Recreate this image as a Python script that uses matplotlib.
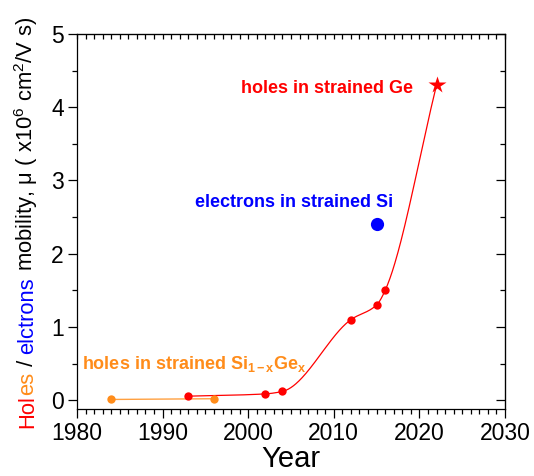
import numpy as np
import matplotlib
matplotlib.use("Agg")
import matplotlib.pyplot as plt

plt.rcParams['font.family'] = ['Liberation Sans', 'DejaVu Sans']
plt.rcParams['mathtext.fontset'] = 'custom'
plt.rcParams['mathtext.rm'] = 'Liberation Sans'
plt.rcParams['mathtext.bf'] = 'Liberation Sans:bold'
plt.rcParams['mathtext.it'] = 'Liberation Sans:italic'

# -----------------------------
# Data
# -----------------------------
sige_year = [1984, 1996]
sige_mu = [0.01, 0.02]

ge_year = [1993, 2002, 2004, 2012, 2015, 2016]
ge_mu = [0.055, 0.086, 0.12, 1.10, 1.30, 1.50]

ge_star_year = [2022]
ge_star_mu = [4.30]

si_year = [2015]
si_mu = [2.40]

RED = '#ff0000'
BLUE = '#0000ff'
ORANGE = '#ff8c1a'


def pchip(x, y, xs):
    # monotone cubic (Fritsch-Carlson), only for drawing the smooth connecting line
    x = np.asarray(x, float)
    y = np.asarray(y, float)
    h = np.diff(x)
    d = np.diff(y) / h
    m = np.zeros_like(y)
    for k in range(1, len(x) - 1):
        if d[k - 1] * d[k] > 0:
            w1 = 2 * h[k] + h[k - 1]
            w2 = h[k] + 2 * h[k - 1]
            m[k] = (w1 + w2) / (w1 / d[k - 1] + w2 / d[k])
    m[0] = d[0]
    m[-1] = d[-1]
    idx = np.clip(np.searchsorted(x, xs) - 1, 0, len(x) - 2)
    t = (xs - x[idx]) / h[idx]
    h00 = 2 * t**3 - 3 * t**2 + 1
    h10 = t**3 - 2 * t**2 + t
    h01 = -2 * t**3 + 3 * t**2
    h11 = t**3 - t**2
    return (h00 * y[idx] + h10 * h[idx] * m[idx]
            + h01 * y[idx + 1] + h11 * h[idx] * m[idx + 1])


fig = plt.figure(figsize=(5.34, 4.76), dpi=100)
ax = fig.add_axes([0.1442, 0.1408, 0.8015, 0.7878])

# red spline through the strained-Ge points
gx = ge_year + ge_star_year
gy = ge_mu + ge_star_mu
xs = np.linspace(gx[0], gx[-1], 400)
ax.plot(xs, pchip(gx, gy, xs), color=RED, lw=0.9, zorder=2)
ax.plot(ge_year, ge_mu, 'o', color=RED, ms=6, mec='none', zorder=3)
ax.plot(ge_star_year, ge_star_mu, '*', color=RED, ms=13, mec='none', zorder=3)

# orange SiGe
ax.plot(sige_year, sige_mu, '-', color='#ffa040', lw=1.0, zorder=2)
ax.plot(sige_year, sige_mu, 'o', color=ORANGE, ms=6, mec='none', zorder=3)

# blue strained Si
ax.plot(si_year, si_mu, 'o', color=BLUE, ms=9.5, mec='none', zorder=3)

# annotations
ax.text(2019.2, 4.20, 'holes in strained Ge', color=RED, fontsize=13,
        fontweight='bold', ha='right', va='baseline')
ax.text(2016.9, 2.64, 'electrons in strained Si', color=BLUE, fontsize=13,
        fontweight='bold', ha='right', va='baseline')
ax.text(1980.6, 0.42, r'holes in strained Si$_{\mathbf{1-x}}$Ge$_{\mathbf{x}}$',
        color=ORANGE, fontsize=13, fontweight='bold', ha='left', va='baseline')

# axes
ax.set_xlim(1980, 2030)
ax.set_ylim(-0.12, 5)
ax.set_xticks(np.arange(1980, 2031, 10))
ax.set_xticks(np.arange(1980, 2031, 1), minor=True)
ax.set_yticks(np.arange(0, 5.1, 1))
ax.set_yticks(np.arange(0, 5.1, 0.5), minor=True)
ax.tick_params(which='major', direction='out', length=6.5, width=0.9,
               labelsize=16.5, pad=3)
ax.tick_params(which='minor', direction='out', length=3.5, width=0.9)
for sp in ax.spines.values():
    sp.set_linewidth(0.9)

top = ax.secondary_xaxis('top')
top.set_xticks(np.arange(1980, 2031, 10))
top.set_xticks(np.arange(1980, 2031, 1), minor=True)
top.tick_params(which='both', direction='in', length=3.5, width=0.9, labeltop=False)
right = ax.secondary_yaxis('right')
right.set_yticks(np.arange(0, 5.1, 1))
right.set_yticks(np.arange(0, 5.1, 0.5), minor=True)
right.tick_params(which='major', direction='in', length=6.5, width=0.9, labelright=False)
right.tick_params(which='minor', direction='in', length=3.5, width=0.9)

ax.set_xlabel('Year', fontsize=21, labelpad=0)

# multi-coloured y label, pieces stacked bottom to top
pieces = [('Hol', RED), ('es', ORANGE), (' / ', 'black'), ('elctrons', BLUE),
          (r' mobility, μ ( x10$^6$ cm$^2$/V s)', 'black')]
r = fig.canvas.get_renderer()
W, H = fig.bbox.width, fig.bbox.height
ypix = 48
for s, c in pieces:
    t = fig.text(33 / W, ypix / H, s, color=c, fontsize=15.8, rotation=90,
                 rotation_mode='anchor', ha='left', va='baseline')
    ypix += t.get_window_extent(r).height

fig.savefig('out.png', dpi=100)
